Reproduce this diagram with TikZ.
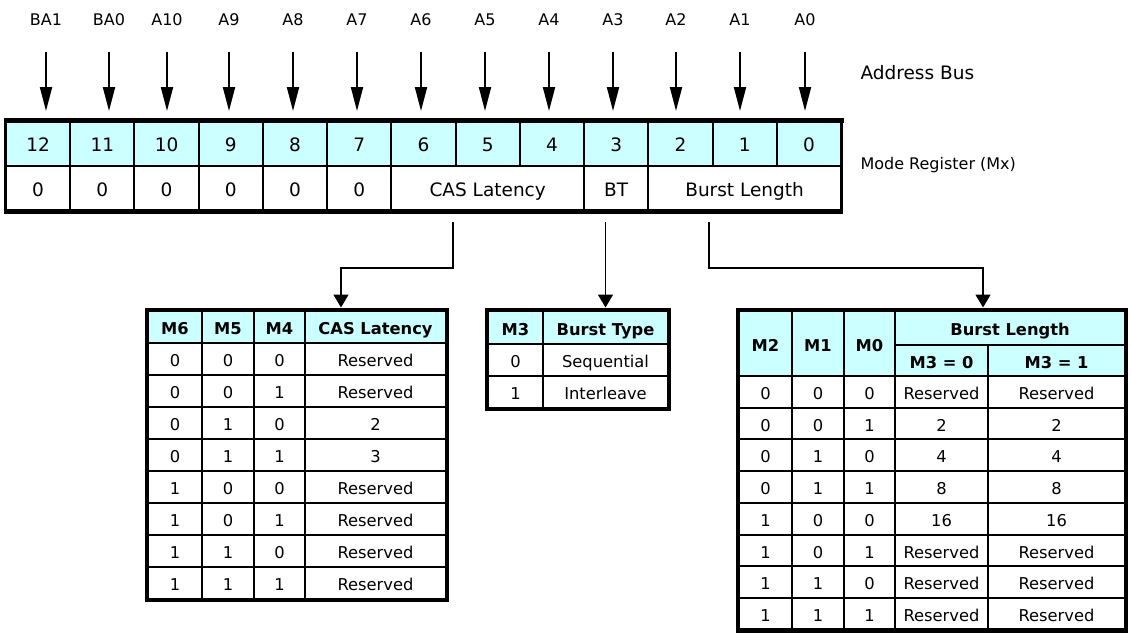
\documentclass[tikz,border=0pt]{standalone}
\usepackage{fontspec}
\setmainfont{DejaVu Sans}
\usetikzlibrary{arrows.meta,calc}
\definecolor{headcyan}{HTML}{CCFFFF}

\tikzset{
  cell/.style={
    draw,
    rectangle,
    line width=2pt,
    inner sep=0pt,
    anchor=center,
    align=center
  },
  regcell/.style={cell, minimum height=45pt, text height=15.5pt, text depth=0pt,
    font=\fontsize{18.5}{21}\selectfont},
  tabcell/.style={cell, text height=15.3pt, text depth=0pt,
    font=\fontsize{16.3}{19}\selectfont},
  thead/.style={tabcell, fill=headcyan, font=\fontsize{16.3}{19}\selectfont\bfseries},
  buslabel/.style={inner sep=0pt, text height=11.7pt, text depth=0pt,
    font=\fontsize{16}{19}\selectfont},
  tabframe/.style={line width=4.5pt},
  busarrow/.style={-{Triangle[length=24pt,width=12pt]}, line width=2pt},
  link/.style={-{Triangle[length=13pt,width=15pt]}, line width=1.6pt},
}

\begin{document}
\begin{tikzpicture}[x=1pt, y=-1pt]
  \useasboundingbox (0,0) rectangle (1131,632);
  \fill[white] (0,0) rectangle (1131,632);

  \foreach \b [count=\i from 0] in {12,11,...,0}
    \node[regcell, fill=headcyan, minimum width=64.23pt] (bit\b) at ({6+64.23*(\i+0.5)},143.5) {\b};
  \foreach \b [count=\i from 0] in {12,11,...,7}
    \node[regcell, minimum width=64.23pt, minimum height=44.5pt] (val\b) at ({6+64.23*(\i+0.5)},188.25) {0};
  \node[regcell, minimum width=192.69pt, minimum height=44.5pt] (cas) at (487.7,188.25) {CAS Latency};
  \node[regcell, minimum width=64.23pt, minimum height=44.5pt] (bt) at (616.2,188.25) {BT};
  \node[regcell, minimum width=192.69pt, minimum height=44.5pt] (bl) at (744.6,188.25) {Burst Length};
  \draw[line width=3pt] (bit12.north west) rectangle (bl.south east);
  \draw[line width=5pt] ([xshift=-1.5pt]bit12.north west) -- ([xshift=1.5pt]bit0.north east);
  \draw[line width=5pt] ([xshift=-1.5pt]val12.south west) -- ([xshift=1.5pt]bl.south east);

  \foreach \s/\x [count=\i from 0] in {BA1/46,BA0/109,A10/167,A9/229,A8/293,A7/357,A6/421,A5/485,A4/549,A3/613,A2/676,A1/740,A0/805} {
    \node[buslabel] (bus\i) at (\x,20) {\s};
    \draw[busarrow] ($(bus\i.south)+(0,26.2)$) -- ($(bus\i.south |- bit12.north)+(0,-9)$);
  }
  \node[anchor=west, font=\fontsize{18.5}{21}\selectfont] (busname) at (857,73) {Address Bus};
  \node[anchor=west, font=\fontsize{16}{19}\selectfont] (regname) at (857,165) {Mode Register (Mx)};

  \node[thead, minimum width=54pt, minimum height=32pt] (casM6) at (175,327) {M6};
  \node[thead, minimum width=52pt, minimum height=32pt] (casM5) at (228,327) {M5};
  \node[thead, minimum width=51pt, minimum height=32pt] (casM4) at (279.5,327) {M4};
  \node[thead, minimum width=141pt, minimum height=32pt] (casH) at (375.5,327) {CAS Latency};
  \foreach \a/\b/\c/\v [count=\i] in {0/0/0/Reserved,0/0/1/Reserved,0/1/0/2,0/1/1/3,1/0/0/Reserved,1/0/1/Reserved,1/1/0/Reserved,1/1/1/Reserved} {
    \node[tabcell, minimum width=54pt, minimum height=32pt] (casa\i) at (175,{327+32*\i}) {\a};
    \node[tabcell, minimum width=52pt, minimum height=32pt] (casb\i) at (228,{327+32*\i}) {\b};
    \node[tabcell, minimum width=51pt, minimum height=32pt] (casc\i) at (279.5,{327+32*\i}) {\c};
    \node[tabcell, minimum width=141pt, minimum height=32pt] (casv\i) at (375.5,{327+32*\i}) {\v};
  }
  \draw[tabframe] (casM6.north west) rectangle (casv8.south east);

  \node[thead, minimum width=55pt, minimum height=33pt] (btM3) at (515.5,327.5) {M3};
  \node[thead, minimum width=125pt, minimum height=33pt] (btH) at (605.5,327.5) {Burst Type};
  \foreach \a/\v [count=\i] in {0/Sequential,1/Interleave} {
    \node[tabcell, minimum width=55pt, minimum height=32pt] (bta\i) at (515.5,{328+32*\i}) {\a};
    \node[tabcell, minimum width=125pt, minimum height=32pt] (btv\i) at (605.5,{328+32*\i}) {\v};
  }
  \draw[tabframe] (btM3.north west) rectangle (btv2.south east);

  \node[thead, minimum width=53pt, minimum height=65pt] (blM2) at (765.5,343.5) {M2};
  \node[thead, minimum width=52pt, minimum height=65pt] (blM1) at (818,343.5) {M1};
  \node[thead, minimum width=51pt, minimum height=65pt] (blM0) at (869.5,343.5) {M0};
  \node[thead, minimum width=230pt, minimum height=34pt] (blH) at (1010,328) {Burst Length};
  \node[thead, minimum width=93pt, minimum height=31pt] (blS0) at (941.5,360.5) {M3 = 0};
  \node[thead, minimum width=137pt, minimum height=31pt] (blS1) at (1056.5,360.5) {M3 = 1};
  \foreach \a/\b/\c/\v/\w [count=\i] in {0/0/0/Reserved/Reserved,0/0/1/2/2,0/1/0/4/4,0/1/1/8/8,1/0/0/16/16,1/0/1/Reserved/Reserved,1/1/0/Reserved/Reserved,1/1/1/Reserved/Reserved} {
    \node[tabcell, minimum width=53pt, minimum height=31.7pt] (bla\i) at (765.5,{376+31.7*(\i-0.5)}) {\a};
    \node[tabcell, minimum width=52pt, minimum height=31.7pt] (blb\i) at (818,{376+31.7*(\i-0.5)}) {\b};
    \node[tabcell, minimum width=51pt, minimum height=31.7pt] (blc\i) at (869.5,{376+31.7*(\i-0.5)}) {\c};
    \node[tabcell, minimum width=93pt, minimum height=31.7pt] (blv\i) at (941.5,{376+31.7*(\i-0.5)}) {\v};
    \node[tabcell, minimum width=137pt, minimum height=31.7pt] (blw\i) at (1056.5,{376+31.7*(\i-0.5)}) {\w};
  }
  \draw[tabframe] (blM2.north west) rectangle (blw8.south east);

  \draw[link] ($(cas.south)+(-34.5,10.5)$) -- ++(0,46) -| ($(casH.north)+(-34.5,-2.5)$);
  \draw[link] ($(bt.south)+(-10.7,10.5)$) -- ($(btH.north)+(0,-2.5)$);
  \draw[link] ($(bl.south)+(-35.6,10.5)$) -- ++(0,46) -| ($(blH.north)+(-27,-2.5)$);
\end{tikzpicture}
\end{document}
